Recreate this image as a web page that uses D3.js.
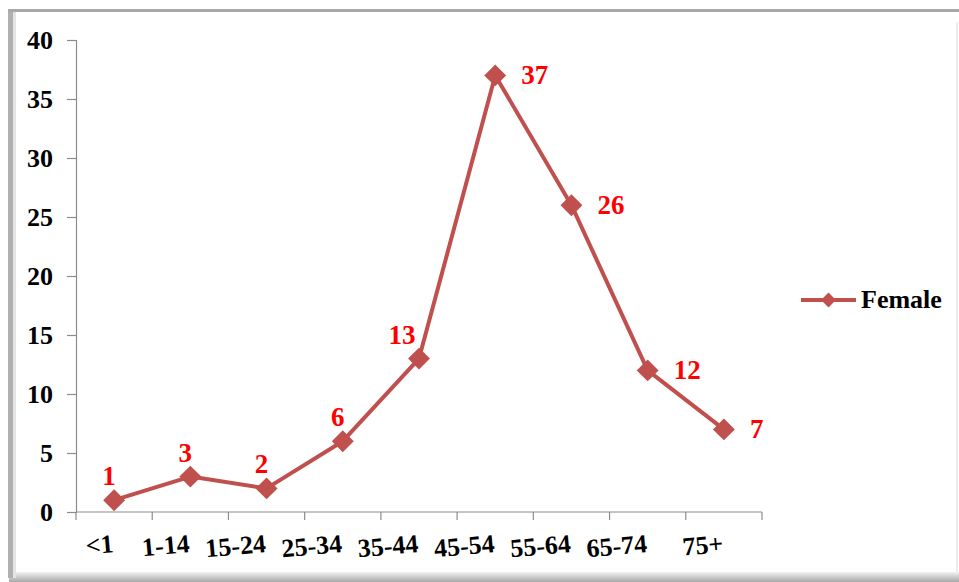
<!DOCTYPE html>
<html><head><meta charset="utf-8">
<script src="https://cdn.jsdelivr.net/npm/d3@7"></script>
<style>body{margin:0;background:#fff}svg{display:block}</style>
</head><body>
<script>
const categories = ["<1","1-14","15-24","25-34","35-44","45-54","55-64","65-74","75+"];
const femaleValues = [1,3,2,6,13,37,26,12,7];
const yTicks = [0,5,10,15,20,25,30,35,40];
const seriesName = "Female";
// label placement per point
const labelPos = ["above","above","above","above","aboveLeft","right","right","right","right"];

const W = 959, H = 582;
const svg = d3.select("body").append("svg").attr("width", W).attr("height", H);
const serif = "'Liberation Serif','Times New Roman',serif";

// frame with shadow
const defs = svg.append("defs");
const gb = defs.append("linearGradient").attr("id","gb").attr("x1",0).attr("y1",0).attr("x2",0).attr("y2",1);
gb.append("stop").attr("offset","0").attr("stop-color","#f2f2f2");
gb.append("stop").attr("offset","1").attr("stop-color","#a8a8a8");
svg.append("rect").attr("x",9).attr("y",572).attr("width",950).attr("height",10).attr("fill","url(#gb)");
svg.append("rect").attr("x",8).attr("y",10).attr("width",5).attr("height",568).attr("fill","#b0b0b0");
svg.append("rect").attr("x",13).attr("y",10).attr("width",3).attr("height",568).attr("fill","#e4e4e4");
svg.append("rect").attr("x",8).attr("y",9).attr("width",951).attr("height",3).attr("fill","#a8a8a8");
svg.append("rect").attr("x",956).attr("y",22).attr("width",2).attr("height",550).attr("fill","#ececec");

const x = d3.scaleBand().domain(categories).range([76, 762]);
const y = d3.scaleLinear().domain([0, 40]).range([512, 40]);

const axisColor = "#8c8c8c";
// y axis
const yAxis = svg.append("g").attr("transform","translate(76,0)")
  .call(d3.axisLeft(y).tickValues(yTicks).tickSize(9).tickPadding(14));
yAxis.select(".domain").attr("stroke",axisColor).attr("stroke-width",1.2);
yAxis.selectAll(".tick line").attr("stroke",axisColor).attr("stroke-width",1.2);
yAxis.selectAll(".tick text").attr("font-family",serif)
  .attr("font-weight","bold").attr("font-size","26px").attr("fill","#000").attr("dy","0.34em");

// x axis
const xAxis = svg.append("g").attr("transform","translate(0,512)");
xAxis.append("line").attr("x1",76).attr("x2",762).attr("y1",0).attr("y2",0).attr("stroke",axisColor).attr("stroke-width",1.2);
const bounds = categories.map(c => x(c)).concat([x.range()[1]]);
xAxis.selectAll("line.tk").data(bounds).join("line").attr("class","tk")
  .attr("x1",d=>d).attr("x2",d=>d).attr("y1",0).attr("y2",8).attr("stroke",axisColor).attr("stroke-width",1.2);
xAxis.selectAll("text.xl").data(categories).join("text").attr("class","xl")
  .attr("transform", d => `translate(${x(d)+x.bandwidth()/2},${40}) rotate(-5)`)
  .attr("text-anchor","end")
  .attr("font-family",serif)
  .attr("font-weight","bold").attr("font-size","26px").attr("fill","#000")
  .text(d=>d);

const color = "#C0504D";
const pts = categories.map((c,i)=>({c, v: femaleValues[i], pos: labelPos[i]}));
const line = d3.line().x(d=>x(d.c)+x.bandwidth()/2).y(d=>y(d.v));
svg.append("path").datum(pts).attr("d",line).attr("fill","none")
  .attr("stroke",color).attr("stroke-width",4).attr("stroke-linejoin","round");

const diamond = d3.symbol().type(d3.symbolSquare).size(240);
svg.selectAll("path.mk").data(pts).join("path").attr("class","mk")
  .attr("d",diamond)
  .attr("transform",d=>`translate(${x(d.c)+x.bandwidth()/2},${y(d.v)}) rotate(45)`)
  .attr("fill",color);

svg.selectAll("text.dl").data(pts).join("text").attr("class","dl")
  .attr("x",d=>{const cx=x(d.c)+x.bandwidth()/2; return d.pos==="right"?cx+26:(d.pos==="aboveLeft"?cx-17:cx-5);})
  .attr("y",d=>{const cy=y(d.v); return d.pos==="right"?cy+9:cy-15;})
  .attr("text-anchor",d=>d.pos==="right"?"start":"middle")
  .attr("font-family",serif)
  .attr("font-weight","bold").attr("font-size","27px").attr("fill","#ff0000")
  .text(d=>d.v);

// legend
const lg = svg.append("g").attr("transform","translate(801,300)");
lg.append("line").attr("x1",0).attr("x2",55).attr("y1",0).attr("y2",0).attr("stroke",color).attr("stroke-width",4);
lg.append("path").attr("d",d3.symbol().type(d3.symbolSquare).size(110)).attr("transform","translate(27.5,0) rotate(45)").attr("fill",color);
lg.append("text").attr("x",60).attr("y",8).attr("font-family",serif)
  .attr("font-weight","bold").attr("font-size","26px").attr("fill","#000").text(seriesName);
</script>
</body></html>
